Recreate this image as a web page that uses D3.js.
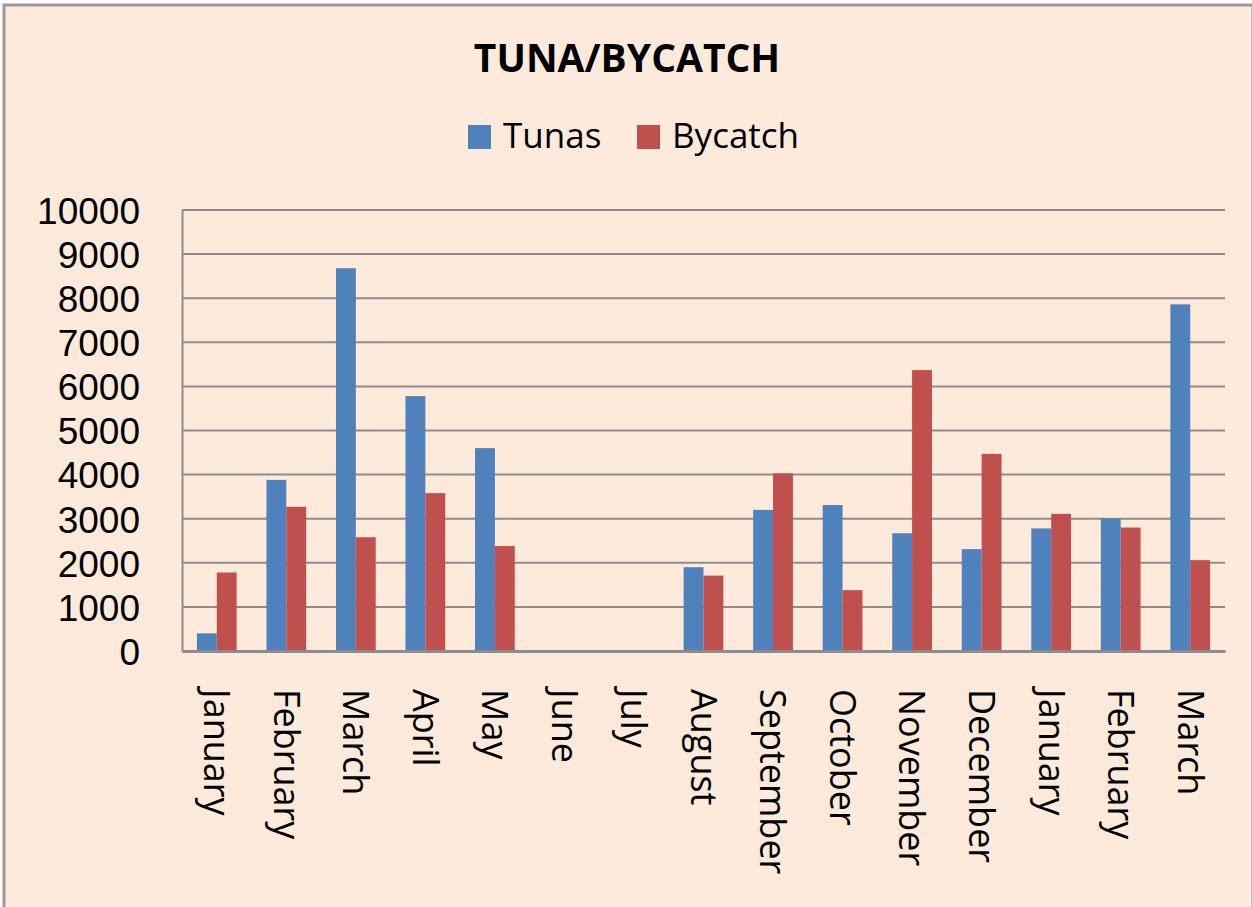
<!DOCTYPE html>
<html>
<head>
<meta charset="utf-8">
<script src="https://cdn.jsdelivr.net/npm/d3@7"></script>
<style>
  html, body { margin: 0; padding: 0; background: #ffffff; }
  svg { display: block; }
</style>
</head>
<body>
<svg id="chart" width="1252" height="907"></svg>
<script>
const months = ["January","February","March","April","May","June","July","August","September","October","November","December","January","February","March"];
const tunas   = [400, 3880, 8680, 5780, 4600, 0, 0, 1900, 3200, 3310, 2670, 2310, 2780, 3000, 7860];
const bycatch = [1780, 3270, 2580, 3580, 2380, 0, 0, 1710, 4030, 1380, 6370, 4470, 3110, 2800, 2060];
const seriesNames = ["Tunas", "Bycatch"];
const seriesColors = ["#4F81BD", "#C0504D"];
const yTicks = [0,1000,2000,3000,4000,5000,6000,7000,8000,9000,10000];
const title = "TUNA/BYCATCH";

const W = 1252, H = 907;
const svg = d3.select("#chart");
const font = "'Open Sans', 'DejaVu Sans', sans-serif";
const tickFont = "'Liberation Sans', Arial, sans-serif";

// background & frame
svg.append("rect").attr("x",0).attr("y",0).attr("width",W).attr("height",H).attr("fill","#ffffff");
svg.append("rect").attr("x",4).attr("y",5).attr("width",W-3).attr("height",H+10)
  .attr("fill","#FDEADA").attr("stroke","#9a9a9a").attr("stroke-width",3);

const plot = {left:182, right:1225, top:210, bottom:651};

const x = d3.scaleBand().domain(d3.range(months.length))
  .range([plot.left, plot.right]).paddingInner(1.5/3.5).paddingOuter(0.75/3.5);
const xs = d3.scaleBand().domain(seriesNames).range([0, x.bandwidth()]);
const y = d3.scaleLinear().domain([0,10000]).range([plot.bottom, plot.top]);

// gridlines
svg.append("g").selectAll("line").data(yTicks.filter(d=>d>0)).join("line")
  .attr("x1",plot.left).attr("x2",plot.right)
  .attr("y1",d=>y(d)).attr("y2",d=>y(d))
  .attr("stroke","#8c8c8c").attr("stroke-width",2);

// bars
const data = months.map((m,i)=>({i, vals:[tunas[i], bycatch[i]]}));
const groups = svg.append("g").selectAll("g").data(data).join("g")
  .attr("transform",d=>`translate(${x(d.i)},0)`);
groups.selectAll("rect").data(d=>d.vals.map((v,k)=>({v,k}))).join("rect")
  .attr("x",d=>xs(seriesNames[d.k]))
  .attr("width",xs.bandwidth())
  .attr("y",d=>y(d.v))
  .attr("height",d=>y(0)-y(d.v))
  .attr("fill",d=>seriesColors[d.k]);

// y axis
const yAxis = d3.axisLeft(y).tickValues(yTicks).tickSize(0).tickPadding(42).tickFormat(d3.format("d"));
const gy = svg.append("g").attr("transform",`translate(${plot.left},0)`).call(yAxis);
gy.select(".domain").attr("stroke","#8c8c8c").attr("stroke-width",2);
gy.selectAll("text").attr("font-family",tickFont).attr("font-size",37).attr("fill","#000").attr("dy","0.36em");

// x axis
const xAxis = d3.axisBottom(x).tickSize(0).tickFormat(i=>months[i]);
const gx = svg.append("g").attr("transform",`translate(0,${plot.bottom})`).call(xAxis);
gx.select(".domain").attr("stroke","#8c8c8c").attr("stroke-width",3);
gx.selectAll("text")
  .attr("font-family",font).attr("font-size",36).attr("fill","#000")
  .attr("text-anchor","start")
  .attr("transform",`translate(0,38) rotate(90)`)
  .attr("x",0).attr("y",0).attr("dy","0.35em");

// title
svg.append("text").attr("x",627).attr("y",72).attr("text-anchor","middle")
  .attr("font-family",font).attr("font-weight","bold").attr("font-size",39)
  .attr("fill","#000").text(title);

// legend
const legendX = [468, 637];
const leg = svg.append("g").selectAll("g").data(seriesNames).join("g")
  .attr("transform",(d,i)=>`translate(${legendX[i]},0)`);
leg.append("rect").attr("x",0).attr("y",125).attr("width",23).attr("height",24)
  .attr("fill",(d,i)=>seriesColors[i]);
leg.append("text").attr("x",35).attr("y",148)
  .attr("font-family",font).attr("font-size",35).attr("fill","#000").text(d=>d);
</script>
</body>
</html>
